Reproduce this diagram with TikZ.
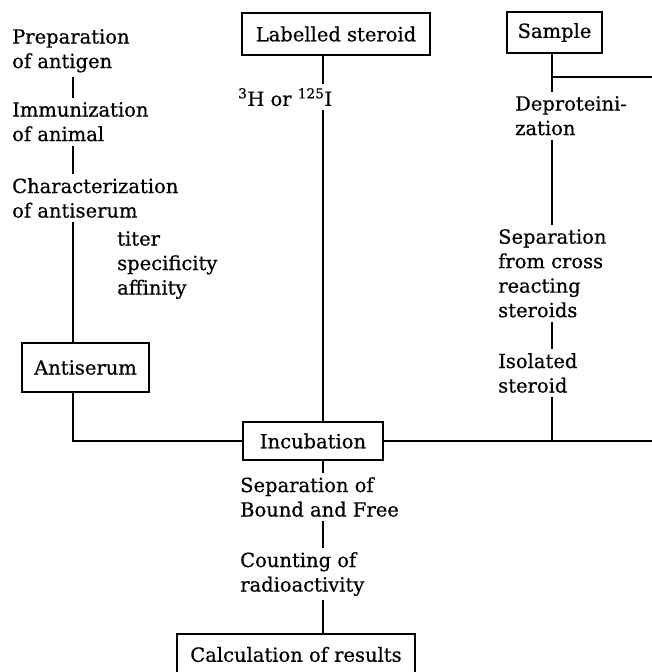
\documentclass[tikz,border=0pt]{standalone}
\usepackage{fontspec}
\setmainfont{DejaVu Serif}[FakeBold=0.6]
\begin{document}
\begin{tikzpicture}[x=1pt,y=-1pt,
    font=\fontsize{19.5}{24.5}\selectfont,
    txt/.style={align=left,inner xsep=0pt,inner ysep=4pt,anchor=north west},
    box/.style={draw,line width=1.5pt,inner sep=0pt},
    link/.style={line width=1.5pt}]
    \useasboundingbox (0,0) rectangle (652,672);
    %% Spines
    \coordinate (lx) at (73,0);
    \coordinate (cx) at (323,0);
    \coordinate (rx) at (552,0);
    \coordinate (edge) at (652,0);
    %% Antiserum side
    \node[txt] (prep) at (12,25) {Preparation\\of antigen};
    \node[txt] (immun) at (12,98) {Immunization\\of animal};
    \node[txt] (charact) at (12,174) {Characterization\\of antiserum};
    \node[txt] (props) at (117,227) {titer\\specificity\\affinity};
    \node[box,minimum width=127,minimum height=49] (antiserum) at (85.5,367.5) {Antiserum};
    %% Tracer
    \node[box,minimum width=188,minimum height=42] (labelled) at (336,34) {Labelled steroid};
    \node[txt] (isotope) at (238,84) {\textsuperscript{3}H or \textsuperscript{125}I};
    %% Sample side
    \node[box,minimum width=95,minimum height=41] (sample) at (554.5,32.5) {Sample};
    \node[txt] (deprot) at (515,92) {Deproteini-\\zation};
    \node[txt] (crosssep) at (498,225) {Separation\\from cross\\reacting\\steroids};
    \node[txt] (isolated) at (498,349) {Isolated\\steroid};
    %% Assay
    \node[box,minimum width=140,minimum height=38] (incub) at (313,441) {Incubation};
    \node[txt] (bfsep) at (240,473) {Separation of\\Bound and Free};
    \node[txt] (counting) at (240,548) {Counting of\\radioactivity};
    \node[box,anchor=north,minimum width=238,text height=22,text depth=40,inner ysep=6] (calc) at (296,633) {Calculation of results};
    %% Connections
    \draw[link] (lx |- prep.south) -- (lx |- immun.north);
    \draw[link] (lx |- immun.south) -- (lx |- charact.north);
    \draw[link] (lx |- charact.south) -- (lx |- antiserum.north);
    \draw[link] (lx |- antiserum.south) |- (incub.west);
    \draw[link] (cx |- labelled.south) -- (cx |- isotope.north);
    \draw[link] (cx |- isotope.south) -- (cx |- incub.north);
    \draw[link] (rx |- sample.south) -- (rx |- deprot.north);
    \draw[link] (rx |- 0,77) -- (edge |- 0,77);
    \draw[link] (rx |- deprot.south) -- (rx |- crosssep.north);
    \draw[link] (rx |- crosssep.south) -- (rx |- isolated.north);
    \draw[link] (rx |- isolated.south) -- (rx |- incub.east);
    \draw[link] (incub.east) -- (edge |- incub.east);
    \draw[link] (cx |- incub.south) -- (cx |- bfsep.north);
    \draw[link] (cx |- bfsep.south) -- (cx |- counting.north);
    \draw[link] (cx |- counting.south) -- (cx |- calc.north);
\end{tikzpicture}
\end{document}
